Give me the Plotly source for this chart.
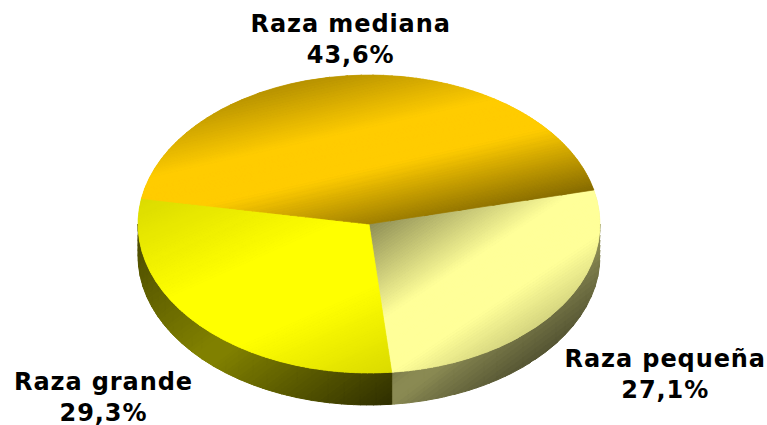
import math
import plotly.graph_objects as go

# Data
categories = ["Raza pequeña", "Raza grande", "Raza mediana"]
shares = [27.1, 29.3, 43.6]
value_labels = ["27,1%", "29,3%", "43,6%"]

# Style and layout
W, H = 767, 425
CX, CY, RX, RY, DEPTH = 369, 224, 231, 149, 32
START_DEG = 13.2
STEP_DEG = 4.0
BASE = {"Raza pequeña": (255, 255, 153), "Raza grande": (255, 255, 0), "Raza mediana": (255, 204, 0)}
# normal x, normal y, band centre, plateau half-width, slope on dark side, slope on far side, peak, minimum
TOP = {
    "Raza pequeña": (0.55, 0.83, 500, 25, 0.0052, 0.0040, 1.0, 0.5),
    "Raza grande": (0.40, 0.90, 372, 35, 0.0014, 0.0017, 1.0, 0.8),
    "Raza mediana": (0.22, 0.97, 225, 20, 0.0048, 0.0069, 1.0, 0.5),
}
SIDE = {
    "Raza pequeña": (0.60, 0.80, 552, 5, 0.0040, 0.0040, 0.54, 0.3),
    "Raza grande": (0.60, 0.80, 410, 10, 0.0016, 0.0023, 0.50, 0.18),
}
LABEL_POS = {"Raza pequeña": (665, 374), "Raza grande": (103, 397), "Raza mediana": (350, 39)}
FONT = dict(family="DejaVu Sans", size=24, color="black", weight="bold")
PAGE_CSS = "document.body.style.margin='0';var s=document.createElement('style');s.textContent='.annotation-text{letter-spacing:0.9px}';document.head.appendChild(s);"


def clip(poly, nx, ny, limit, keep_below):
    out = []
    n = len(poly)
    for i in range(n):
        p, q = poly[i], poly[(i + 1) % n]
        tp = nx * p[0] + ny * p[1] - limit
        tq = nx * q[0] + ny * q[1] - limit
        if not keep_below:
            tp, tq = -tp, -tq
        if tp <= 0:
            out.append(p)
        if (tp < 0) != (tq < 0) and tp != tq:
            s = tp / (tp - tq)
            out.append((p[0] + s * (q[0] - p[0]), p[1] + s * (q[1] - p[1])))
    return out


def shade(poly, base, params, buckets, strip=2.5):
    nx, ny, centre, flat, s0, s1, peak, low = params
    ts = [nx * x + ny * y for x, y in poly]
    i0 = math.floor(min(ts) / strip)
    i1 = math.ceil(max(ts) / strip)
    for i in range(i0, i1):
        a, b = i * strip, (i + 1) * strip
        piece = clip(clip(poly, nx, ny, b, True), nx, ny, a, False)
        if len(piece) < 3:
            continue
        t = (a + b) / 2 - centre
        d = max(0.0, abs(t) - flat)
        f = max(low, peak - (s0 if t < 0 else s1) * d)
        col = "rgb(%d,%d,%d)" % tuple(round(c * f) for c in base)
        buckets.setdefault(col, []).append(piece)


def pt(deg, dy=0.0):
    r = math.radians(deg)
    return (CX + RX * math.cos(r), CY - RY * math.sin(r) + dy)


def arc(a0, a1):
    n = max(2, round(abs(a1 - a0) / STEP_DEG) + 1)
    return [a0 + (a1 - a0) * i / (n - 1) for i in range(n)]


def add_polys(fig, polys, col, width):
    xs, ys = [], []
    for p in polys:
        xs += [q[0] for q in p] + [p[0][0], None]
        ys += [q[1] for q in p] + [p[0][1], None]
    line = dict(color=col, width=width)
    fig.add_trace(go.Scatter(x=xs, y=ys, mode="lines", fill="toself", fillcolor=col,
                             line=line, hoverinfo="skip", showlegend=False))


def add_buckets(fig, buckets, width):
    for col, polys in buckets.items():
        add_polys(fig, polys, col, width)


def scaled(base, f):
    return "rgb(%d,%d,%d)" % tuple(round(c * f) for c in base)


total = sum(shares)
spans = []
cur = START_DEG
for cat, val in zip(categories, shares):
    nxt = cur - 360 * val / total
    spans.append((cat, cur, nxt))
    cur = nxt

fig = go.Figure()

side_buckets = {}
for cat, a0, a1 in spans:
    if cat not in SIDE:
        continue
    lo, hi = max(a1, -180), min(a0, 0)
    if hi <= lo:
        continue
    angs = arc(hi, lo)
    for u, v in zip(angs[:-1], angs[1:]):
        quad = [pt(u), pt(v), pt(v, DEPTH), pt(u, DEPTH)]
        add_polys(fig, [quad], scaled(BASE[cat], SIDE[cat][6] + 0.1), 0)
        shade(quad, BASE[cat], SIDE[cat], side_buckets, strip=4)
add_buckets(fig, side_buckets, 1.0)

top_buckets = {}
for cat, a0, a1 in spans:
    poly = [(CX, CY)] + [pt(a) for a in arc(a0, a1)]
    add_polys(fig, [poly], scaled(BASE[cat], 0.85), 0)
    shade(poly, BASE[cat], TOP[cat], top_buckets)
add_buckets(fig, top_buckets, 0.7)

for cat, lab in zip(categories, value_labels):
    x, y = LABEL_POS[cat]
    fig.add_annotation(x=x, y=y, xref="x", yref="y", text=f"{cat}<br>{lab}", showarrow=False,
                       font=FONT, align="center", xanchor="center", yanchor="middle")

fig.update_layout(
    width=W, height=H, margin=dict(l=0, r=0, t=0, b=0),
    paper_bgcolor="white", plot_bgcolor="white", showlegend=False,
    xaxis=dict(range=[0, W], visible=False, fixedrange=True),
    yaxis=dict(range=[H, 0], visible=False, fixedrange=True),
)
fig.write_html("out.html", config={"displayModeBar": False}, post_script=PAGE_CSS)
